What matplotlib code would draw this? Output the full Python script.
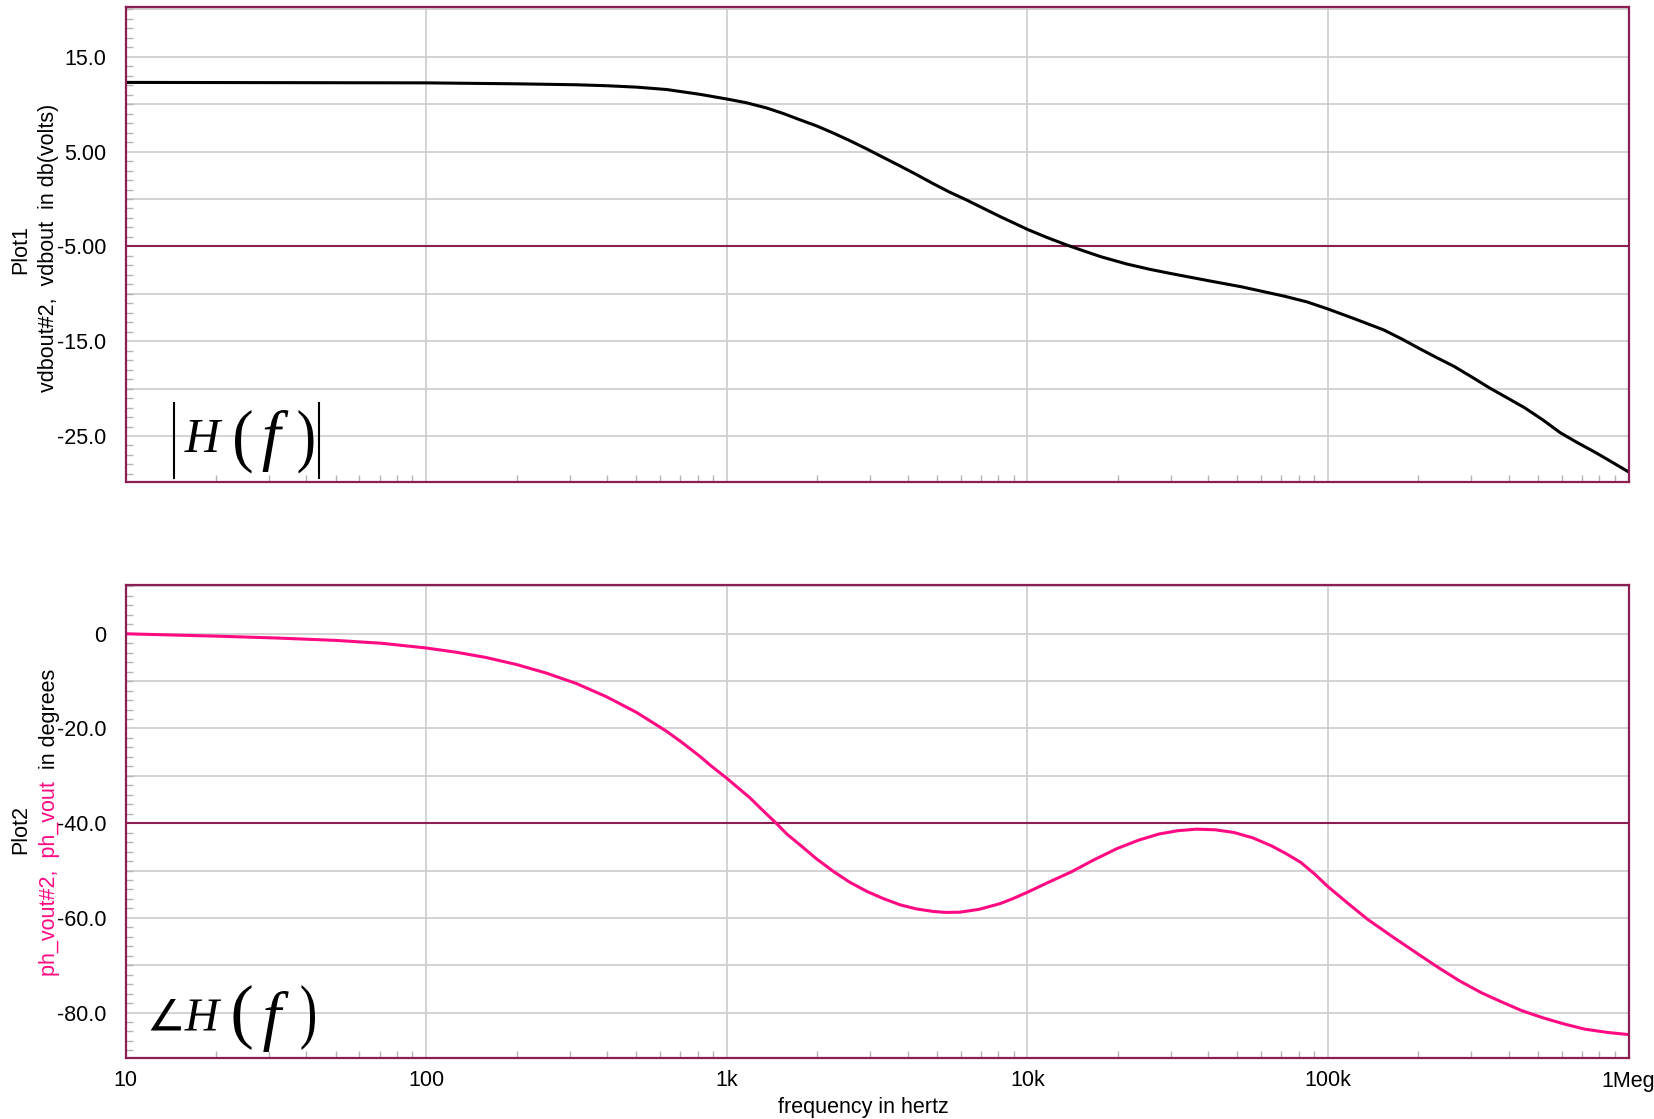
import matplotlib
matplotlib.use("Agg")
import matplotlib.pyplot as plt
from matplotlib.font_manager import FontProperties
from matplotlib.lines import Line2D
from matplotlib.patches import PathPatch
from matplotlib.textpath import TextPath
from matplotlib.transforms import Affine2D
from matplotlib.ticker import MultipleLocator, LogLocator, NullFormatter

plt.rcParams["font.family"] = ["Liberation Sans", "DejaVu Sans"]

# magnitude trace (dB)
mag_freq = [10, 100, 200, 316, 398, 501, 631, 815,
            1000, 1164, 1358, 1549, 1754, 1995, 2265, 2570, 2924, 3311,
            3776, 4266, 4875, 5495, 6295, 7161, 8128, 9120,
            10000, 11610, 13520, 15490, 17540, 21380, 25590, 30130,
            39810, 51760, 61660, 71610, 85110,
            100000, 123000, 153100, 175800, 200400, 229100, 263000, 302000, 345100, 393600,
            451900, 518800, 592900, 676100, 778000, 881000, 1000000]
mag_db = [12.3, 12.25, 12.15, 12.05, 11.95, 11.8, 11.55, 11.04,
          10.55, 10.15, 9.6, 9.0, 8.35, 7.7, 6.95, 6.15, 5.28, 4.4,
          3.48, 2.6, 1.6, 0.75, -0.12, -1.0, -1.86, -2.6,
          -3.2, -4.05, -4.85, -5.5, -6.08, -6.85, -7.42, -7.87,
          -8.6, -9.27, -9.8, -10.25, -10.85,
          -11.6, -12.65, -13.8, -14.75, -15.73, -16.7, -17.66, -18.8, -19.93, -20.95,
          -22.03, -23.3, -24.65, -25.7, -26.75, -27.75, -28.78]

# phase trace (degrees)
ph_freq = [10, 20, 32, 50, 71, 100, 126, 158, 200, 251, 316, 398, 501, 631, 708, 815, 891,
           1000, 1197, 1318, 1466, 1585, 1754, 1995, 2265, 2570, 2924, 3311, 3776, 4266,
           4875, 5370, 5970, 6918, 8110, 8913,
           10000, 11750, 14000, 16600, 19910, 23440, 27390, 31620, 36520, 42170, 48700,
           56230, 64940, 72440, 81280, 90160,
           100000, 116400, 135500, 164100, 199100, 234400, 273900, 323600, 376700, 441600,
           518800, 609500, 714500, 851100, 1000000]
ph_deg = [0, -0.5, -0.9, -1.4, -2.0, -3.0, -3.9, -5.0, -6.5, -8.3, -10.5, -13.3, -16.6,
          -20.6, -22.9, -25.9, -28.0,
          -30.5, -34.7, -37.3, -40.1, -42.3, -44.6, -47.6, -50.2, -52.5, -54.4, -55.9, -57.25,
          -58.1, -58.66, -58.85, -58.8, -58.2, -57.0, -56.0,
          -54.6, -52.5, -50.3, -47.8, -45.35, -43.6, -42.3, -41.6, -41.27, -41.4, -41.97,
          -43.1, -44.8, -46.4, -48.3, -50.7,
          -53.4, -56.9, -60.3, -64.0, -67.6, -70.6, -73.3, -75.8, -77.7, -79.6,
          -81.1, -82.4, -83.5, -84.2, -84.65]

freq_ticks = [10, 100, 1e3, 1e4, 1e5, 1e6]
freq_labels = ["10", "100", "1k", "10k", "100k", "1Meg"]
mag_ticks = [15, 5, -5, -15, -25]
mag_labels = ["15.0", "5.00", "-5.00", "-15.0", "-25.0"]
mag_grid = [20, 15, 10, 5, 0, -5, -10, -15, -20, -25]
ph_ticks = [0, -20, -40, -60, -80]
ph_labels = ["0", "-20.0", "-40.0", "-60.0", "-80.0"]
ph_grid = [10, 0, -10, -20, -30, -40, -50, -60, -70, -80]
mag_cursor = -5
ph_cursor = -40

MAROON, PINK, GRID = "#8b1e52", "#ff0a82", "#cccccc"
W, H = 1654, 1119
FS = 15.5
PIX = Affine2D().scale(1 / W, 1 / H)  # figure pixels (y up) -> figure fraction


def px(x, y):
    return x / W, 1 - y / H


fig = plt.figure(figsize=(W / 100, H / 100), dpi=100)
ax_mag = fig.add_axes([125.5 / W, 1 - 482 / H, 1503 / W, 474.5 / H])
ax_ph = fig.add_axes([125.5 / W, 1 - 1058 / H, 1503 / W, 473 / H])


def style(ax, grid_vals, cursor, minor_step):
    ax.set_xscale("log")
    ax.set_xlim(10, 1e6)
    for g in grid_vals:
        ax.axhline(g, color=GRID, lw=1.2, zorder=1)
    ax.axhline(cursor, color=MAROON, lw=1.5, zorder=2)
    ax.set_xticks(freq_ticks)
    ax.xaxis.set_minor_locator(LogLocator(base=10, subs=range(2, 10)))
    ax.xaxis.set_minor_formatter(NullFormatter())
    ax.grid(axis="x", which="major", color=GRID, lw=1.2, zorder=1)
    ax.yaxis.set_minor_locator(MultipleLocator(minor_step))
    ax.tick_params(which="major", length=0, labelsize=FS)
    ax.tick_params(axis="y", which="major", pad=14)
    ax.tick_params(axis="x", which="major", pad=9)
    ax.tick_params(which="minor", direction="in", length=5, width=1, color="#b4b4b4")
    for s in ax.spines.values():
        s.set_color(MAROON)
        s.set_linewidth(1.6)
        s.set_zorder(5)


style(ax_mag, mag_grid, mag_cursor, 1)
style(ax_ph, ph_grid, ph_cursor, 2)

ax_mag.plot(mag_freq, mag_db, color="black", lw=2.2, zorder=3)
ax_mag.set_ylim(-29.85, 20.2)
ax_mag.set_yticks(mag_ticks, mag_labels)
ax_mag.tick_params(axis="x", labelbottom=False)

ax_ph.plot(ph_freq, ph_deg, color=PINK, lw=2.2, zorder=3)
ax_ph.set_ylim(-89.6, 10.3)
ax_ph.set_yticks(ph_ticks, ph_labels)
ax_ph.set_xticklabels(freq_labels)

# axis titles
fig.text(*px(863, 1107), "frequency in hertz", fontsize=FS, ha="center", va="center")
fig.text(*px(21, 250), "Plot1", fontsize=FS, rotation=90, ha="center", va="center")
fig.text(*px(49, 248), "vdbout#2,  vdbout  in db(volts)", fontsize=FS, rotation=90,
         ha="center", va="center")
fig.text(*px(21, 829), "Plot2", fontsize=FS, rotation=90, ha="center", va="center")
t_pink = fig.text(*px(49, 976), "ph_vout#2,  ph_vout", fontsize=FS, rotation=90,
                  rotation_mode="anchor", ha="left", va="center", color=PINK)
fig.canvas.draw()
bb = t_pink.get_window_extent()
fig.text(49 / W, bb.y1 / fig.bbox.height, "  in degrees", fontsize=FS, rotation=90,
         rotation_mode="anchor", ha="left", va="center", color="black")


# formula labels: each glyph's outline is placed in its box (pixels, y down);
# keep_aspect scales by height only and centres the glyph across the box
def glyph(s, x0, y0, x1, y1, family="Liberation Serif", style="normal", keep_aspect=True):
    tp = TextPath((0, 0), s, size=100, prop=FontProperties(family=family, style=style))
    ext = tp.get_extents()
    sy = (y1 - y0) / ext.height
    sx = sy if keep_aspect else (x1 - x0) / ext.width
    left = (x0 + x1) / 2 - ext.width * sx / 2
    fit = (Affine2D().translate(-ext.x0, -ext.y0).scale(sx, sy).translate(left, H - y1))
    fig.add_artist(PathPatch(fit.transform_path(tp), facecolor="black", edgecolor="none",
                             transform=PIX + fig.transFigure))


def bar(x, y0, y1):
    fig.add_artist(Line2D([x, x], [H - y0, H - y1], transform=PIX + fig.transFigure,
                          color="black", lw=1.5))


bar(173.5, 403, 478)
glyph("H", 185, 420, 221.5, 452, style="italic")
glyph("(", 235, 410, 251.5, 473.5, keep_aspect=False)
glyph("f", 259, 410, 292, 472, style="italic")
glyph(")", 298.5, 410, 313.5, 473.5, keep_aspect=False)
bar(319, 403, 478)

glyph("\u2220", 148.5, 999, 183, 1030.5, family="DejaVu Sans")
glyph("H", 185, 999.5, 220.5, 1030.5, style="italic")
glyph("(", 233.5, 985, 251.5, 1050, keep_aspect=False)
glyph("f", 259, 991, 293, 1052, style="italic")
glyph(")", 301.5, 985, 315, 1050, keep_aspect=False)

fig.savefig("out.png", dpi=100)
